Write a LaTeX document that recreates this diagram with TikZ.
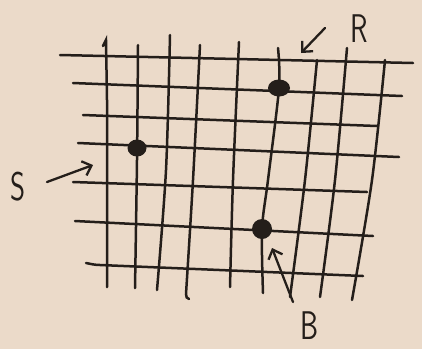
\documentclass[tikz,border=0pt]{standalone}
\usetikzlibrary{arrows.meta,shapes.geometric}
\definecolor{paper}{RGB}{235,218,201}
\definecolor{ink}{RGB}{36,30,26}
\begin{document}
\begin{tikzpicture}[x=1pt,y=-1pt,
  gridline/.style={draw=ink,line width=2.5pt,line cap=round},
  pointer/.style={draw=ink,line width=2.3pt,line cap=round,-{Straight Barb[length=8pt,width=15pt,line width=2.3pt]}},
  stone/.style={ellipse,fill=ink,inner sep=0pt},
  hand/.style={text=ink,font=\sffamily\fontsize{40}{40}\selectfont,xscale=0.72,inner sep=0pt}]
\fill[paper] (0,0) rectangle (422,349);
\useasboundingbox (0,0) rectangle (422,349);
% horizontal lines
\draw[gridline] (60,55) -- (413,63);
\draw[gridline] (73,83) -- (402,96);
\draw[gridline] (83,115) -- (377,126);
\draw[gridline] (78,143) -- (399,157);
\draw[gridline] (73,182) -- (367,192);
\draw[gridline] (75,221) -- (373,236);
\draw[gridline] (86,263) to[out=-10,in=180] (100,265) -- (363,276);
% vertical lines
\draw[gridline] (103,46) -- (106,40) -- (107,100) -- (107,287);
\draw[gridline] plot[smooth] coordinates {(138,45) (137,160) (135,288)};
\draw[gridline] plot[smooth] coordinates {(170,35) (166,170) (157,290)};
\draw[gridline] plot[smooth] coordinates {(200,45) (193,180) (186,294)} to[out=-90,in=180] (189,299);
\draw[gridline] plot[smooth] coordinates {(239,42) (233,180) (230,287)};
\draw[gridline] plot[smooth] coordinates {(278,48) (279,88) (268,180) (262,229) (263,293)};
\draw[gridline] plot[smooth] coordinates {(317,60) (305,180) (290,297)};
\draw[gridline] plot[smooth] coordinates {(347,48) (335,180) (320,297)};
\draw[gridline] plot[smooth] coordinates {(385,60) (372,180) (352,300)};
% stones
\node[stone,minimum width=19pt,minimum height=17pt] (dotS) at (137,148) {};
\node[stone,minimum width=22pt,minimum height=17pt] (dotR) at (279,88) {};
\node[stone,minimum width=20pt,minimum height=20pt] (dotB) at (262,229) {};
% labels
\node[hand] (labS) at (18,187) {S};
\node[hand] (labR) at (359,29) {R};
\node[hand] (labB) at (310,326) {B};
% arrows
\coordinate (sTail) at (47,182);
\coordinate (sTip) at (93,165);
\coordinate (rTail) at (325,28);
\coordinate (rTip) at (301,53);
\coordinate (bTail) at (293,302);
\coordinate (bTip) at (272,248);
\draw[pointer] (sTail) -- (sTip);
\draw[pointer] (rTail) -- (rTip);
\draw[pointer] (bTail) -- (bTip);
\end{tikzpicture}
\end{document}
